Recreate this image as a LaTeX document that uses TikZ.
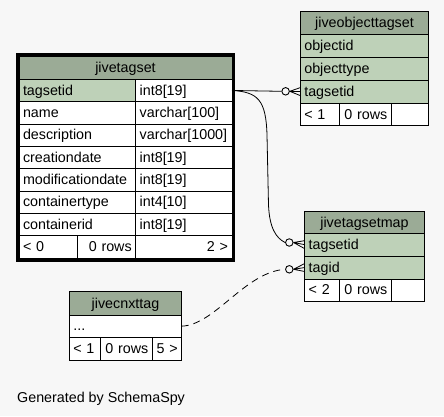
\documentclass[tikz,border=0pt]{standalone}
\usepackage{fontspec}
\setmainfont{Liberation Sans}
\definecolor{bg}{HTML}{F7F7F7}
\definecolor{hdr}{HTML}{9BAB96}
\definecolor{key}{HTML}{BED1B8}
\newcommand\tabfont{\fontsize{14.3bp}{16bp}\selectfont}
\newcommand\mkcell[8]{%
  \pgfmathsetmacro\cellw{#4-#2}%
  \pgfmathsetmacro\cellh{#5-#3}%
  \pgfmathsetmacro\celltw{#4-#2-8}%
  \node[cellbox,fill=#6,align=#7,minimum width=\cellw bp,minimum height=\cellh bp,text width=\celltw bp] (#1) at (#2,#3) {#8};}
\tikzset{
  cellbox/.style={draw=black, line width=1bp, anchor=north west, inner xsep=4bp, inner ysep=0pt,
    outer sep=0pt, font=\tabfont, text height=11bp, text depth=1.5bp},
  endcircle/.style={circle, draw=black, line width=0.9bp, fill=bg, inner sep=0pt, minimum size=7.5bp},
  edge/.style={draw=black, line width=0.8bp},
  crow/.style={draw=black, line width=0.8bp},
  dashededge/.style={edge, dash pattern=on 7bp off 5bp}
}
\begin{document}
\begin{tikzpicture}[x=1bp,y=-1bp]
\useasboundingbox (0,0) rectangle (444,416);
\fill[bg] (0,0) rectangle (444,416);

% ---------- jivetagset (focus table) ----------
\mkcell{tsH}{19}{56}{232}{79.3}{hdr}{center}{jivetagset}
\mkcell{tsN1}{19}{79.3}{135.7}{101.6}{key}{left}{tagsetid}
\mkcell{tsT1}{135.7}{79.3}{232}{101.6}{white}{left}{int8[19]}
\mkcell{tsN2}{19}{101.6}{135.7}{124}{white}{left}{name}
\mkcell{tsT2}{135.7}{101.6}{232}{124}{white}{left}{varchar[100]}
\mkcell{tsN3}{19}{124}{135.7}{146.3}{white}{left}{description}
\mkcell{tsT3}{135.7}{124}{232}{146.3}{white}{left}{varchar[1000]}
\mkcell{tsN4}{19}{146.3}{135.7}{168.7}{white}{left}{creationdate}
\mkcell{tsT4}{135.7}{146.3}{232}{168.7}{white}{left}{int8[19]}
\mkcell{tsN5}{19}{168.7}{135.7}{191}{white}{left}{modificationdate}
\mkcell{tsT5}{135.7}{168.7}{232}{191}{white}{left}{int8[19]}
\mkcell{tsN6}{19}{191}{135.7}{213.3}{white}{left}{containertype}
\mkcell{tsT6}{135.7}{191}{232}{213.3}{white}{left}{int4[10]}
\mkcell{tsN7}{19}{213.3}{135.7}{235.7}{white}{left}{containerid}
\mkcell{tsT7}{135.7}{213.3}{232}{235.7}{white}{left}{int8[19]}
\mkcell{tsF1}{19}{235.7}{77.3}{258}{white}{left}{< 0}
\mkcell{tsF2}{77.3}{235.7}{135.7}{258}{white}{right}{0 rows}
\mkcell{tsF3}{135.7}{235.7}{232}{258}{white}{right}{2 >}
\draw[line width=3bp] (17.5,54.2) rectangle (233.5,260.2);

% ---------- jiveobjecttagset ----------
\mkcell{otH}{300.3}{11}{428.7}{34.5}{hdr}{center}{jiveobjecttagset}
\mkcell{ot1}{300.3}{34.5}{428.7}{57.3}{key}{left}{objectid}
\mkcell{ot2}{300.3}{57.3}{428.7}{80.2}{key}{left}{objecttype}
\mkcell{ot3}{300.3}{80.2}{428.7}{103}{key}{left}{tagsetid}
\mkcell{otF1}{300.3}{103}{339.3}{125.5}{white}{left}{< 1}
\mkcell{otF2}{339.3}{103}{391.3}{125.5}{white}{right}{0 rows}
\mkcell{otF3}{391.3}{103}{428.7}{125.5}{white}{right}{}

% ---------- jivetagsetmap ----------
\mkcell{tmH}{304.7}{211.7}{424.3}{233.3}{hdr}{center}{jivetagsetmap}
\mkcell{tm1}{304.7}{233.3}{424.3}{256}{key}{left}{tagsetid}
\mkcell{tm2}{304.7}{256}{424.3}{279}{key}{left}{tagid}
\mkcell{tmF1}{304.7}{279}{339.7}{301}{white}{left}{< 2}
\mkcell{tmF2}{339.7}{279}{391.3}{301}{white}{right}{0 rows}
\mkcell{tmF3}{391.3}{279}{424.3}{301}{white}{right}{}

% ---------- jivecnxttag ----------
\mkcell{cxH}{69.3}{291.7}{181.7}{315}{hdr}{center}{jivecnxttag}
\mkcell{cx1}{69.3}{315}{181.7}{337.3}{white}{left}{...}
\mkcell{cxF1}{69.3}{337.3}{100.3}{360}{white}{left}{< 1}
\mkcell{cxF2}{100.3}{337.3}{152.3}{360}{white}{right}{0 rows}
\mkcell{cxF3}{152.3}{337.3}{181.7}{360}{white}{right}{5 >}

% ---------- connector ends ----------
\node[endcircle] (c1) at (285.6,91.3) {};
\node[endcircle] (c2) at (289.3,242.5) {};
\node[endcircle] (c3) at (289.3,269.3) {};
\coordinate (k1) at (258,92);
\coordinate (k2) at (266,100);
\coordinate (k3) at (267,135);
\coordinate (k4) at (268.5,205);
\coordinate (k5) at (269.5,228);
\coordinate (k6) at (276,238);
\coordinate (k7) at (215,325);
\coordinate (k8) at (245,272);

% ---------- connectors ----------
\draw[edge] (tsT1.east) -- (c1.west);
\draw[edge] (tsT1.east) .. controls (k1) and (k2) .. (k3) -- (k4) .. controls (k5) and (k6) .. (c2.west);
\draw[dashededge] (cx1.east) .. controls (k7) and (k8) .. (c3.west);

% crow's feet
\draw[crow] (c1.east) -- ([yshift=4bp]ot3.west) (c1.east) -- (ot3.west) (c1.east) -- ([yshift=-4bp]ot3.west);
\draw[crow] (c2.east) -- ([yshift=4bp]tm1.west) (c2.east) -- (tm1.west) (c2.east) -- ([yshift=-4bp]tm1.west);
\draw[crow] (c3.east) -- ([yshift=4bp]tm2.west) (c3.east) -- (tm2.west) (c3.east) -- ([yshift=-4bp]tm2.west);

% ---------- footer ----------
\node[anchor=base west, inner sep=0pt, font=\tabfont] (gen) at (17,402.7) {Generated by SchemaSpy};
\end{tikzpicture}
\end{document}
